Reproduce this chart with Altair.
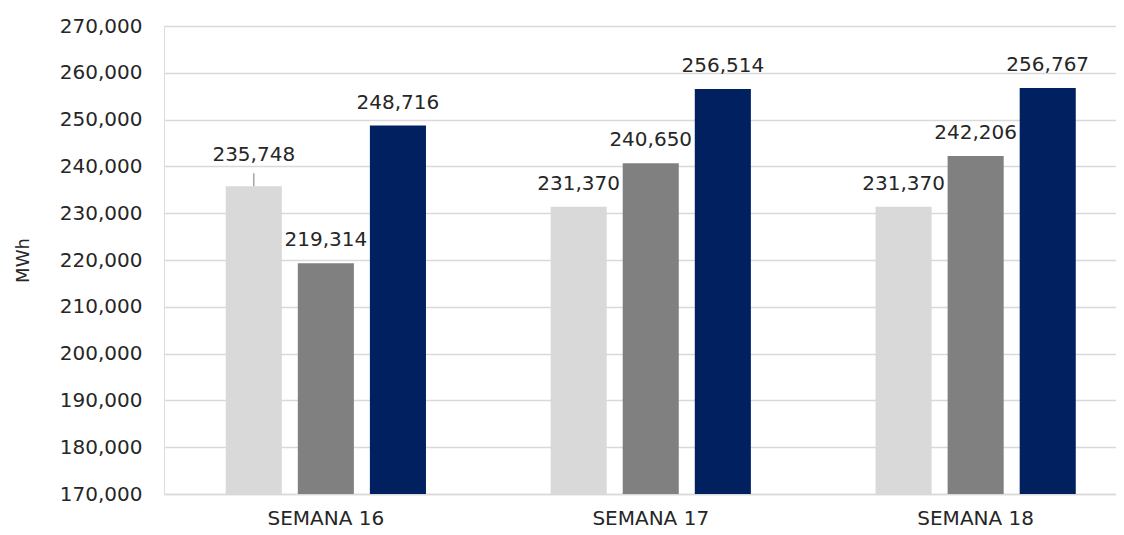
import altair as alt
import pandas as pd

weeks = ["SEMANA 16", "SEMANA 17", "SEMANA 18"]
series = ["Serie 1", "Serie 2", "Serie 3"]
serie1 = [235748, 231370, 231370]
serie2 = [219314, 240650, 242206]
serie3 = [248716, 256514, 256767]
colors = ["#d9d9d9", "#808080", "#002060"]

rows = []
for i, w in enumerate(weeks):
    for s, vals in zip(series, [serie1, serie2, serie3]):
        rows.append({"week": w, "series": s, "value": vals[i]})
df = pd.DataFrame(rows)

FONT = "DejaVu Sans"
TXT = "#262626"

x = alt.X("week:N", sort=weeks, title=None,
          scale=alt.Scale(range=[0, 973.5], paddingInner=0.3837, paddingOuter=0.19),
          axis=alt.Axis(labelAngle=0, labelFont=FONT, labelFontSize=20, labelColor=TXT,
                        labelPadding=14, ticks=False, domain=True, domainColor="#d9d9d9",
                        domainWidth=1.5))
xo = alt.XOffset("series:N", sort=series,
                 scale=alt.Scale(paddingInner=0.222, paddingOuter=0))
y = alt.Y("value:Q", title="MWh",
          scale=alt.Scale(domain=[170000, 270000], nice=False, zero=False),
          axis=alt.Axis(values=list(range(170000, 270001, 10000)), format=",.0f",
                        labelFont=FONT, labelFontSize=20, labelColor=TXT, labelPadding=22,
                        ticks=False, domain=False, gridColor="#d9d9d9", gridWidth=1.5,
                        titleFont=FONT, titleFontSize=18, titleFontWeight="normal",
                        titleColor=TXT, titleX=-141, titleY=234, titleAngle=-90,
                        titleAlign="center", titleBaseline="middle"))
color = alt.Color("series:N", sort=series, legend=None,
                  scale=alt.Scale(domain=series, range=colors))

base = alt.Chart(df).encode(x=x, xOffset=xo, y=y)

bars = base.mark_bar(clip=True).encode(color=color)

is_leader = "datum.week == 'SEMANA 16' && datum.series == 'Serie 1'"

labels = base.mark_text(font=FONT, fontSize=20, color=TXT, baseline="middle", dy=-23).encode(
    text=alt.Text("value:Q", format=",")
).transform_filter("!(" + is_leader + ")")

leader_label = base.mark_text(font=FONT, fontSize=20, color=TXT, baseline="middle", dy=-31).encode(
    text=alt.Text("value:Q", format=",")
).transform_filter(is_leader)

leader = base.mark_rule(color="#a6a6a6", strokeWidth=1.5, y2Offset=-13).encode(
    y2=alt.Y2("value:Q")
).transform_filter(is_leader)

chart = alt.layer(bars, leader, labels, leader_label).properties(
    width=952, height=468,
    autosize=alt.AutoSizeParams(type="none"),
    padding={"left": 156, "top": 18, "right": 0, "bottom": 41},
).configure_view(stroke=None).configure(background="white")

chart.save("out.html", embed_options={"renderer": "svg", "actions": False})
